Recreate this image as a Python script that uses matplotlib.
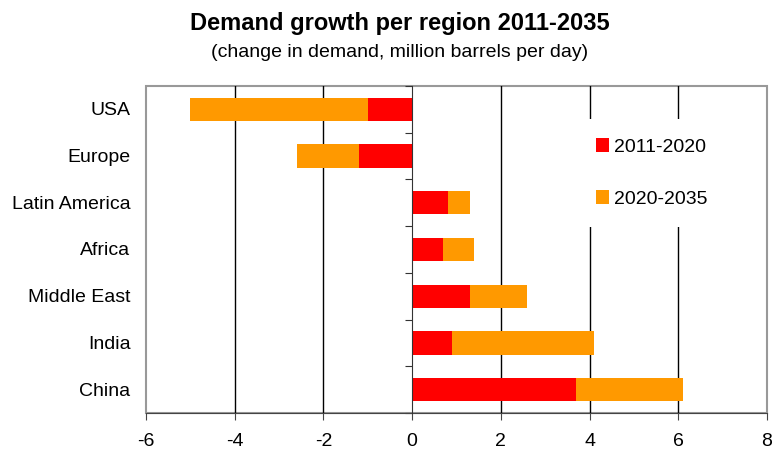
import matplotlib.pyplot as plt
from matplotlib.patches import Rectangle
import numpy as np

plt.rcParams['font.family'] = ['Liberation Sans', 'DejaVu Sans']

# Demand growth, million barrels per day
regions = ['USA', 'Europe', 'Latin America', 'Africa', 'Middle East', 'India', 'China']
growth_2011_2020 = [-1.0, -1.2, 0.8, 0.7, 1.3, 0.9, 3.7]
growth_2020_2035 = [-4.0, -1.4, 0.5, 0.7, 1.3, 3.2, 2.4]
xticks = [-6, -4, -2, 0, 2, 4, 6, 8]

fig = plt.figure(figsize=(7.72, 4.5), dpi=100)
ax = fig.add_axes([0.189, 0.082, 0.8045, 0.727])

y = np.arange(len(regions))
ax.barh(y, growth_2011_2020, height=0.5, color='#FF0000', label='2011-2020', zorder=3)
ax.barh(y, growth_2020_2035, left=growth_2011_2020, height=0.5, color='#FF9900',
        label='2020-2035', zorder=3)

ax.set_xlim(-6, 8)
ax.set_ylim(len(regions) - 0.5, -0.5)

# vertical gridlines
for xv in xticks[1:-1]:
    if xv != 0:
        ax.axvline(xv, color='black', lw=1, zorder=1)

# y axis sits on zero, ticks between the categories
ax.spines['left'].set_position(('data', 0))
ax.spines['left'].set_color('#333333')
ax.spines['left'].set_zorder(4)
ax.set_yticks(np.arange(len(regions) + 1) - 0.5)
ax.set_yticklabels([])
ax.tick_params(axis='y', direction='out', length=5, color='#333333')
for sp in ['top', 'right']:
    ax.spines[sp].set_visible(False)
ax.spines['bottom'].set_color('#444444')

ax.set_xticks(xticks)
ax.set_xticklabels([str(v) for v in xticks], fontsize=14)
ax.tick_params(axis='x', direction='out', length=5, color='#444444', pad=9)

# category labels on the left edge
trans = ax.get_yaxis_transform()
for yi, name in zip(y, regions):
    ax.text(-0.025, yi + 0.03, name, transform=trans, ha='right', va='center', fontsize=14)

# outer frame of the plot area
ax.add_patch(Rectangle((0, 0), 1, 1, transform=ax.transAxes, fill=False,
                       ec='#999999', lw=1.5, clip_on=False, zorder=0))

leg = ax.legend(loc='upper left', bbox_to_anchor=(0.694, 0.899), fontsize=14,
                handlelength=0.67, handleheight=0.67, handletextpad=0.25,
                labelspacing=1.78, borderaxespad=0, borderpad=1.0,
                frameon=True, fancybox=False, framealpha=1)
leg.get_frame().set_edgecolor('none')
leg.set_zorder(5)

fig.text(0.518, 0.947, 'Demand growth per region 2011-2035', ha='center',
         va='center', fontsize=17, fontweight='bold')
fig.text(0.518, 0.884, '(change in demand, million barrels per day)', ha='center',
         va='center', fontsize=14)

fig.savefig('out.png', dpi=100)
